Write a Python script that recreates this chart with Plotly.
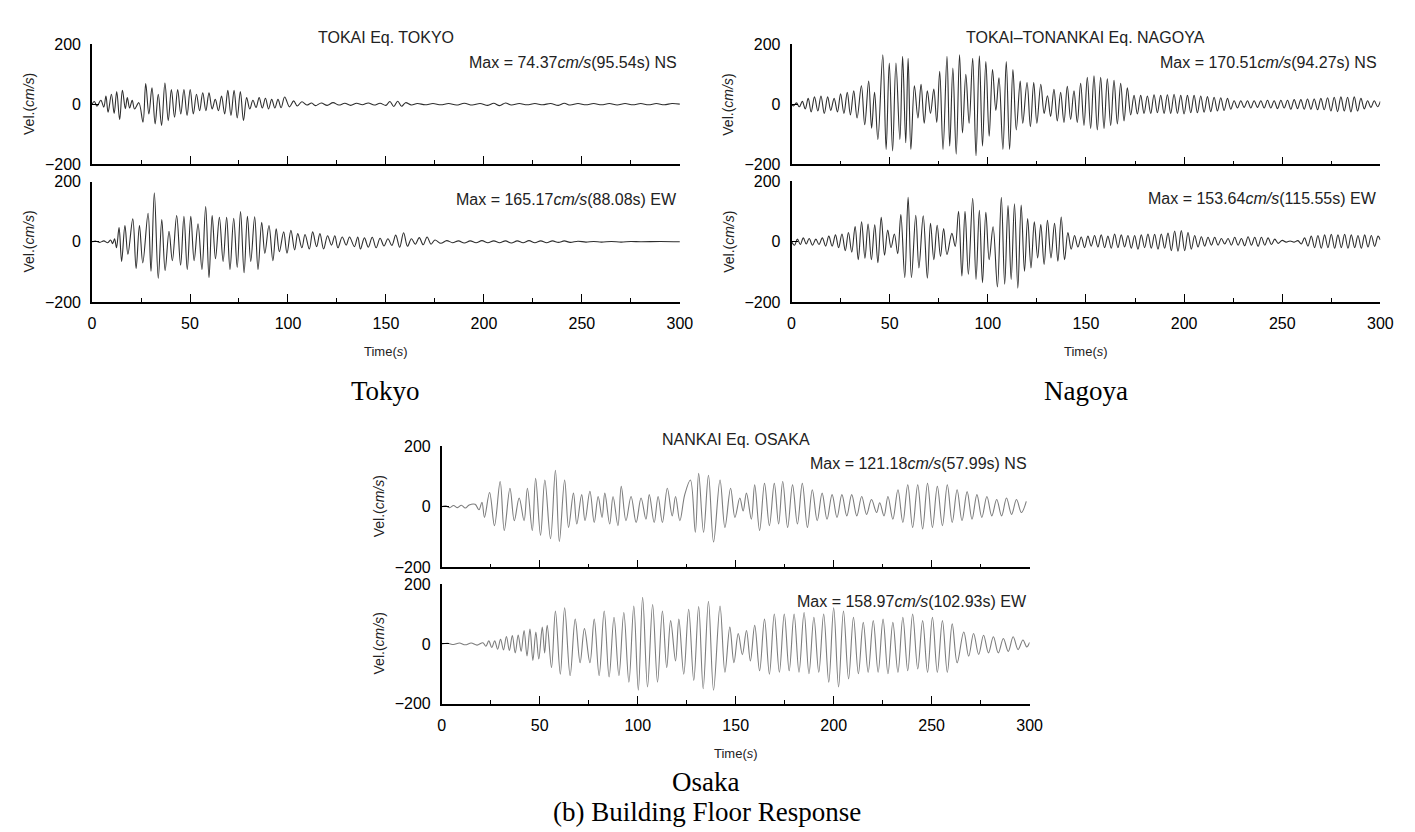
import plotly.graph_objects as go

W, H = 1415, 832

# ---------------- data: (time s, velocity cm/s) extrema ----------------
tokyo_ns = [(0,0),(1.2,9),(2.5,-7),(4.5,13),(6.0,-10),(7.1,27),(8.2,-27),(9.9,33),(11.3,-31),(12.6,42),(14.1,-52),
    (15.5,46),(17.0,-15),(18.0,22),(19.2,-13),(20.5,13),(21.7,-16),(23.9,5),(26.0,-60),(27.4,69),(29.0,-33),(30.6,55),
    (32.2,-66),(33.8,33),(35.5,-71),(37.2,71),(38.9,-55),(40.5,49),(42.1,-44),(43.7,49),(45.3,-33),(46.9,49),(48.5,-38),
    (50.1,49),(51.7,-33),(53.3,33),(54.9,-22),(56.5,38),(58.1,-22),(59.7,38),(61.3,-16),(62.9,16),(64.5,-22),(66.1,27),
    (67.7,-33),(69.3,46),(70.9,-38),(72.5,46),(74.1,-46),(75.7,42),(77.3,-55),(78.9,22),(80.5,-16),(82.1,13),(83.7,-11),
    (85.3,22),(86.9,-13),(88.5,20),(90.1,-16),(91.7,16),(93.3,-13),(94.9,16),(96.5,-12),(98.3,24),(100.8,-9),(102.9,11),
    (104.7,-6),(107.1,8),(109.6,-3),(112.1,4),(114,-5),(117,4),(120,-4),(123,5),(126,-3),(129,3),(132,-4),(135,3),(138,-2),
    (141,4),(144,-3),(147,3),(150,-4),(152,9),(154,-8),(156,10),(158,-7),(160,5),(163,-3),(166,2),(170,-2),(174,2),(178,-2),
    (182,2),(186,-3),(190,3),(194,-3),(198,2),(202,-4),(205,3),(208,-5),(211,4),(214,-3),(218,2),(222,-2),(226,2),(230,-2),
    (234,2),(238,-4),(241,3),(244,-3),(248,2),(252,-2),(256,2),(260,-2),(264,2),(268,-3),(272,2),(276,-2),(280,2),(284,-2),
    (288,2),(292,-2),(296,2),(300,0)]

tokyo_ew = [(0,0),(2,2),(4,-2),(6,3),(8,-3),(9.5,6),(10.5,-6),(11.5,10),(12.5,-20),(13.8,47),(15.1,-65),(16.8,54),
    (18.3,-41),(20.8,76),(22.5,-89),(24.2,54),(25.9,-70),(28.6,95),(30.1,-98),(31.8,163),(33.8,-121),(35.6,74),(37.3,-95),
    (39.3,35),(41.0,-63),(43.2,87),(45.2,-78),(46.9,85),(48.6,-92),(50.4,85),(52.1,-63),(54.1,60),(56.1,-92),(58.0,117),
    (59.7,-119),(61.3,87),(63.0,-56),(65.0,81),(66.9,-65),(68.7,81),(70.4,-92),(72.3,78),(74.1,-85),(75.8,100),(77.6,-103),
    (79.3,85),(81.0,-65),(83.0,83),(84.7,-92),(86.6,65),(88.2,-38),(90.3,54),(92.3,-63),(94.0,43),(95.6,-33),(97.8,33),
    (99.5,-38),(101.5,38),(103.4,-27),(105.0,27),(107.1,-20),(108.7,24),(110.9,-24),(112.6,33),(114.6,-16),(116.3,27),
    (118.2,-24),(120.2,20),(122.2,-11),(123.9,20),(125.5,-20),(127.7,16),(129.7,-11),(131.4,16),(133.9,-16),(135.6,16),
    (137.0,-24),(139.0,13),(141,-18),(143,15),(145,-20),(147,12),(149,-14),(151,10),(153,-12),(155,22),(157,-18),(159,30),
    (161,-15),(163,10),(165,-8),(167,14),(169,-10),(171,16),(173,-8),(175,6),(178,-5),(181,4),(184,-3),(187,3),(190,-4),
    (193,3),(196,-3),(199,4),(202,-3),(205,3),(208,-3),(211,3),(214,-4),(217,3),(220,-3),(223,4),(226,-3),(229,3),(232,-3),
    (235,3),(238,-2),(241,3),(244,-2),(248,2),(252,-1),(256,1),(260,-1),(265,1),(270,-1),(275,1),(280,0),(290,1),(300,0)]

nagoya_ns = [(0,0),(1,-5),(2.5,5),(4,-8),(5.5,10),(7,-15),(8.5,20),(10,-25),(11.7,25),(13.4,-22),(15,28),(16.7,-30),
    (18.4,25),(20,-20),(21.7,20),(23.4,-25),(25,35),(26.7,-30),(28.4,40),(30,-35),(31.7,45),(33.4,-45),(35.6,62),(37.3,-68),
    (39.3,78),(40.8,-79),(42.3,40),(44.0,-117),(46.5,165),(48.2,-150),(49.8,138),(51.5,-155),(53.2,138),(55.2,-117),
    (56.6,160),(58.2,-128),(59.4,154),(60.8,-150),(62.6,62),(64.4,-45),(66.0,67),(67.6,-63),(69.2,45),(70.8,-30),(72.5,51),
    (74.0,-60),(75.5,110),(77.2,-150),(79.2,160),(80.6,-139),(82.2,121),(83.9,-166),(85.6,165),(87.1,-95),(88.8,100),
    (90.5,-63),(92.3,154),(94.0,-171),(95.7,162),(97.3,-139),(99.0,143),(100.7,-106),(102.4,116),(104.1,-20),(105.7,89),
    (107.7,-150),(109.4,143),(111.1,-150),(112.8,116),(114.5,-85),(116.5,78),(117.8,-63),(120.0,73),(121.7,-74),(123.4,73),
    (125.0,-63),(127.0,67),(128.7,-30),(130.4,29),(132,-40),(133.7,50),(135.4,-55),(137.1,40),(138.8,-60),(140.5,60),
    (142.2,-50),(143.9,45),(145.6,-60),(147.3,70),(149,-70),(150.7,90),(152.4,-80),(154.1,95),(155.8,-85),(157.5,90),
    (159.2,-80),(160.9,85),(162.6,-70),(164.3,80),(166,-65),(167.7,70),(169.4,-55),(171.1,55),(172.8,-35),(174.5,30),
    (176.2,-32),(177.9,30),(179.6,-30),(181.3,28),(183,-30),(184.7,32),(186.4,-28),(188.1,30),(189.8,-30),(191.5,32),
    (193.2,-30),(194.9,34),(196.6,-30),(198.3,30),(200,-32),(201.7,30),(203.4,-28),(205.1,30),(206.8,-28),(208.5,28),
    (210.2,-26),(211.9,26),(213.6,-24),(215.3,24),(217,-22),(218.7,22),(220.4,-20),(222.1,20),(223.8,-16),(225.5,12),
    (227.2,-12),(228.9,12),(230.6,-10),(232.3,12),(234,-12),(235.7,12),(237.4,-10),(239.1,12),(240.8,-12),(242.5,14),
    (244.2,-12),(245.9,12),(247.6,-14),(249.3,14),(251,-12),(252.7,14),(254.4,-16),(256.1,16),(257.8,-14),(259.5,16),
    (261.2,-16),(262.9,18),(264.6,-16),(266.3,18),(268,-18),(269.7,20),(271.4,-18),(273.1,22),(274.8,-22),(276.5,24),
    (278.2,-24),(279.9,25),(281.6,-22),(283.3,24),(285,-25),(286.7,25),(288.4,-22),(290.1,20),(291.8,-15),(293.5,12),
    (295.2,-10),(296.9,12),(298.6,-8),(300,10)]

nagoya_ew = [(0,0),(1.5,-12),(3,8),(4.5,-10),(6,12),(7.5,-8),(9,10),(10.7,-12),(12.4,8),(14,-10),(15.7,12),(17.4,-15),
    (19,18),(20.7,-15),(22.4,22),(24,-20),(25.7,25),(27.4,-30),(29,30),(30.7,-35),(32.4,50),(34,-60),(35.7,65),(37.4,-55),
    (39,58),(40.7,-60),(42.4,55),(44,-70),(45.7,80),(47.4,-45),(49,38),(50.7,-20),(52.4,25),(54.1,-40),(55.7,89),(57.7,-119),
    (59.4,146),(61.1,-119),(63.3,87),(64.9,-87),(67.1,85),(69.2,-121),(70.8,60),(72.5,-60),(74.2,54),(75.9,-49),(77.5,43),
    (79.2,-43),(81.7,27),(83.4,-16),(85.1,100),(86.8,-114),(88.4,100),(90.1,-108),(92.3,143),(94.0,-125),(95.7,103),
    (97.3,-136),(99.0,97),(100.7,-60),(102.7,49),(104.9,-150),(106.9,146),(108.6,-141),(110.3,119),(111.9,-125),(113.6,125),
    (115.3,-154),(117.0,121),(118.7,-98),(120.3,76),(122.0,-87),(123.7,65),(125.4,-54),(127.0,56),(128.7,-76),(130.4,70),
    (132.2,-54),(134.0,60),(135.7,-65),(137.4,81),(139.1,-60),(140.8,30),(142.5,-25),(144.2,20),(145.9,-18),(147.6,15),
    (149.3,-20),(151,18),(152.7,-15),(154.4,20),(156.1,-18),(157.8,22),(159.5,-20),(161.2,18),(162.9,-22),(164.6,25),
    (166.3,-20),(168,22),(169.7,-18),(171.4,20),(173.1,-22),(174.8,20),(176.5,-25),(178.2,22),(179.9,-20),(181.6,25),
    (183.3,-22),(185,24),(186.7,-25),(188.4,25),(190.1,-22),(191.8,28),(193.5,-30),(195.2,35),(196.9,-32),(198.6,36),
    (200.3,-30),(202,30),(203.7,-25),(205.4,20),(207.1,-18),(208.8,16),(210.5,-15),(212.2,14),(213.9,-12),(215.6,14),
    (217.3,-12),(219,10),(220.7,-8),(222.4,10),(224.1,-12),(225.8,14),(227.5,-12),(229.2,10),(230.9,-14),(232.6,16),
    (234.3,-12),(236,14),(237.7,-16),(239.4,14),(241.1,-12),(242.8,12),(244.5,-10),(246.2,8),(247.9,-6),(250,4),(252,-2),
    (254,2),(256,-2),(258,3),(259.7,-8),(261.4,12),(263.1,-15),(264.8,18),(266.5,-20),(268.2,20),(269.9,-22),(271.6,22),
    (273.3,-20),(275,24),(276.7,-22),(278.4,22),(280.1,-20),(281.8,24),(283.5,-22),(285.2,22),(286.9,-20),(288.6,20),
    (290.3,-22),(292,22),(293.7,-18),(295.4,20),(297.1,-16),(298.8,18),(300,5)]

osaka_ns = [(0,0),(2,3),(4,-3),(6,4),(8,-3),(10,5),(12,-4),(14,6),(17,8),(19,-10),(20.5,15),(21.8,-35),(24.4,47),
    (26.9,-62),(29.8,83),(31.9,-78),(34.8,61),(37.0,-46),(39.5,29),(42.0,-46),(43.7,61),(46.2,-78),(47.9,94),(50.4,-94),
    (52.6,88),(55.5,-105),(58.0,120),(60.0,-114),(62.7,88),(64.7,-68),(67.2,45),(68.9,-57),(71.4,40),(73.1,-46),(75.6,51),
    (77.8,-52),(79.8,34),(81.8,-35),(83.2,45),(85.7,-57),(87.4,34),(89.9,-62),(91.6,67),(94.0,-46),(96.6,34),(99.2,-52),
    (101.7,29),(104.2,-41),(105.9,40),(108.4,-52),(110.4,34),(112.6,-52),(115.1,61),(117.6,-30),(119.3,34),(121.5,-46),
    (124.0,40),(126.9,88),(129.4,-84),(131.1,110),(133.6,-84),(136.1,104),(138.7,-116),(142.0,88),(144.5,-68),(147.4,61),
    (149.6,-35),(152.1,29),(153.8,-14),(155.5,45),(158.0,-41),(159.7,72),(162.2,-78),(164.7,77),(167.2,-62),(169.7,77),
    (171.9,-57),(174.0,83),(176.5,-68),(179.0,72),(181.5,-57),(184.0,77),(186.6,-68),(189.1,56),(191.6,-46),(194.1,45),
    (196.6,-41),(199.2,40),(201.7,-35),(204.2,40),(206.7,-30),(209.2,40),(211.8,-30),(214.3,34),(216.8,-25),(219.3,24),
    (221.9,-19),(223.5,13),(225.7,-30),(227.7,34),(230.2,-41),(232.8,56),(235.3,-52),(237.8,72),(240.3,-68),(242.9,72),
    (245.4,-73),(247.9,77),(250.4,-68),(252.9,67),(255.5,-62),(258.0,72),(260.5,-52),(263.0,56),(265.5,-46),(268.1,50),
    (270.6,-41),(273.1,40),(275.6,-35),(278.2,34),(280.7,-30),(283.2,24),(285.7,-30),(288.2,29),(290.8,-25),(293.3,24),
    (295.8,-19),(298.3,18)]

osaka_ew = [(0,0),(3,2),(6,-2),(9,3),(12,-3),(15,3),(18,-4),(21,4),(22.5,-8),(24,10),(25.5,-12),(27,10),(28.5,-18),
    (30,15),(31.5,-20),(33,25),(34.5,-22),(36,28),(37.5,-30),(39,30),(40.5,-25),(42,45),(43.5,-40),(45,50),(46.5,-55),
    (48,40),(49.5,-50),(51.3,56),(52.5,-30),(53.8,62),(56.0,-79),(58.0,110),(60.5,-101),(62.7,121),(65.5,-106),(68.1,83),
    (70.6,-63),(72.8,51),(75.6,-63),(77.8,83),(80.3,-106),(82.9,110),(85.4,-111),(87.9,89),(90.4,-106),(92.9,105),
    (95.5,-128),(98.0,127),(100.3,-155),(102.5,156),(105.0,-144),(107.6,132),(110.1,-128),(112.6,110),(114.8,-79),
    (116.8,78),(119.3,-57),(121.0,83),(123.5,-101),(126.0,116),(128.6,-122),(131.1,125),(133.4,-150),(136.1,143),
    (138.7,-155),(142.0,127),(144.5,-95),(147.0,56),(149.1,-63),(151.3,35),(153.4,-36),(155.5,45),(157.5,-57),(159.7,62),
    (162.2,-90),(164.7,83),(167.2,-101),(169.7,100),(172.3,-95),(174.8,100),(177.3,-90),(179.8,100),(182.3,-95),
    (184.9,105),(187.4,-100),(189.9,89),(192.4,-95),(194.9,100),(197.5,-128),(200.0,121),(202.5,-144),(205.0,110),
    (207.6,-117),(210.1,89),(212.6,-100),(215.1,72),(217.6,-95),(220.2,78),(222.7,-95),(225.2,83),(227.7,-100),(230.2,72),
    (232.8,-95),(235.3,89),(237.8,-90),(240.3,100),(242.9,-84),(245.4,78),(247.9,-95),(250.4,89),(252.9,-95),(255.5,78),
    (258.0,-95),(260.5,67),(263.0,-63),(266.4,40),(268.9,-41),(271.4,35),(274.0,-35),(276.5,29),(279.0,-30),(281.5,24),
    (284.0,-30),(286.6,18),(289.1,-25),(291.6,24),(294.1,-19),(296.6,13),(298.5,-10),(300,5)]

panel_titles = ["TOKAI Eq. TOKYO", "TOKAI\u2013TONANKAI Eq. NAGOYA", "NANKAI Eq. OSAKA"]
max_labels = [
    ("74.37", "95.54", "NS"), ("165.17", "88.08", "EW"),
    ("170.51", "94.27", "NS"), ("153.64", "115.55", "EW"),
    ("121.18", "57.99", "NS"), ("158.97", "102.93", "EW"),
]
captions = ["Tokyo", "Nagoya", "Osaka"]
figure_caption = "(b) Building Floor Response"
x_ticks = [0, 50, 100, 150, 200, 250, 300]
x_minor = [25, 75, 125, 175, 225, 275]
y_ticks = [-200, 0, 200]
y_ticktext = ["\u2212200", "0", "200"]

# ---------------- layout geometry (pixels) ----------------
SANS = "Liberation Sans, Arial, Helvetica, sans-serif"
SERIF = "Liberation Serif, Times New Roman, serif"

def px(x, y):
    return x / W, 1 - y / H

# (x0, x1, top-panel y0, y1, bottom-panel y0, y1) in pixels
groups = [
    (81, 676, 29, 151, 169, 292),
    (789, 1385, 29, 151.5, 168.5, 292),
    (435, 1030, 439, 563, 580, 702),
]
caption_pos = [(378, 383), (1087, 383), (702, 782)]
series = [tokyo_ns, tokyo_ew, nagoya_ns, nagoya_ew, osaka_ns, osaka_ew]
colors = ["#2e2e2e", "#2e2e2e", "#2e2e2e", "#2e2e2e", "#7d7d7d", "#7d7d7d"]

fig = go.Figure()
layout = dict(width=W, height=H, margin=dict(l=0, r=0, t=0, b=0),
              paper_bgcolor="white", plot_bgcolor="white", showlegend=False)
annotations = []

for gi, (x0, x1, ty0, ty1, by0, by1) in enumerate(groups):
    for pi, (ya, yb) in enumerate([(ty0, ty1), (by0, by1)]):
        k = gi * 2 + pi
        idx = "" if k == 0 else str(k + 1)
        data = series[k]
        fig.add_trace(go.Scatter(
            x=[p[0] for p in data], y=[p[1] for p in data], mode="lines",
            line=dict(color=colors[k], width=1.1, shape="spline", smoothing=1.0),
            xaxis="x" + idx, yaxis="y" + idx, hoverinfo="skip"))
        layout["xaxis" + idx] = dict(
            domain=[x0 / W, x1 / W], anchor="y" + idx, range=[0, 300],
            tickvals=x_ticks, ticks="inside", ticklen=8, tickwidth=1, tickcolor="black",
            minor=dict(tickvals=x_minor, ticks="inside", ticklen=4, tickwidth=1, tickcolor="black", showgrid=False),
            showticklabels=(pi == 1), ticklabelstandoff=6,
            tickfont=dict(family=SANS, size=16, color="black"),
            showline=True, linecolor="black", linewidth=1.6, showgrid=False, zeroline=False, fixedrange=True)
        layout["yaxis" + idx] = dict(
            domain=[1 - yb / H, 1 - ya / H], anchor="x" + idx, range=[-200, 200],
            tickvals=y_ticks, ticktext=y_ticktext, ticks="inside", ticklen=7, tickwidth=1, tickcolor="black",
            ticklabelstandoff=6, tickfont=dict(family=SANS, size=16, color="black"),
            showline=True, linecolor="black", linewidth=1.6, showgrid=False, zeroline=False, fixedrange=True)
        # y-axis title
        ax, ay = px(x0 - 64, (ya + yb) / 2)
        annotations.append(dict(x=ax, y=ay, xref="paper", yref="paper", text="Vel.(<i>cm/s</i>)",
                                textangle=-90, showarrow=False, xanchor="center", yanchor="middle",
                                font=dict(family=SANS, size=14, color="#222")))
        # Max label
        val, tt, comp = max_labels[k]
        mx, my = px(x1 - 1, ya + 18)
        annotations.append(dict(x=mx, y=my, xref="paper", yref="paper",
                                text=f"Max = {val}<i>cm/s</i>({tt}s) {comp}",
                                showarrow=False, xanchor="right", yanchor="middle",
                                font=dict(family=SANS, size=16, color="#222")))
    # panel title
    tx, ty = px((x0 + x1) / 2, ty0 - 7)
    annotations.append(dict(x=tx, y=ty, xref="paper", yref="paper", text=panel_titles[gi], showarrow=False,
                            xanchor="center", yanchor="middle", font=dict(family=SANS, size=16, color="#222")))
    # Time(s)
    sx, sy = px((x0 + x1) / 2, by1 + 51)
    annotations.append(dict(x=sx, y=sy, xref="paper", yref="paper", text="Time(<i>s</i>)", showarrow=False,
                            xanchor="center", yanchor="middle", font=dict(family=SANS, size=13, color="#222")))
    # caption
    cx, cy = px(*caption_pos[gi])
    annotations.append(dict(x=cx, y=cy, xref="paper", yref="paper", text=captions[gi], showarrow=False,
                            xanchor="center", yanchor="middle", font=dict(family=SERIF, size=27, color="black")))

fx, fy = px(703, 813)
annotations.append(dict(x=fx, y=fy, xref="paper", yref="paper", text=figure_caption, showarrow=False,
                        xanchor="center", yanchor="middle", font=dict(family=SERIF, size=27, color="black")))

layout["annotations"] = annotations
fig.update_layout(**layout)
fig.write_html("out.html")
